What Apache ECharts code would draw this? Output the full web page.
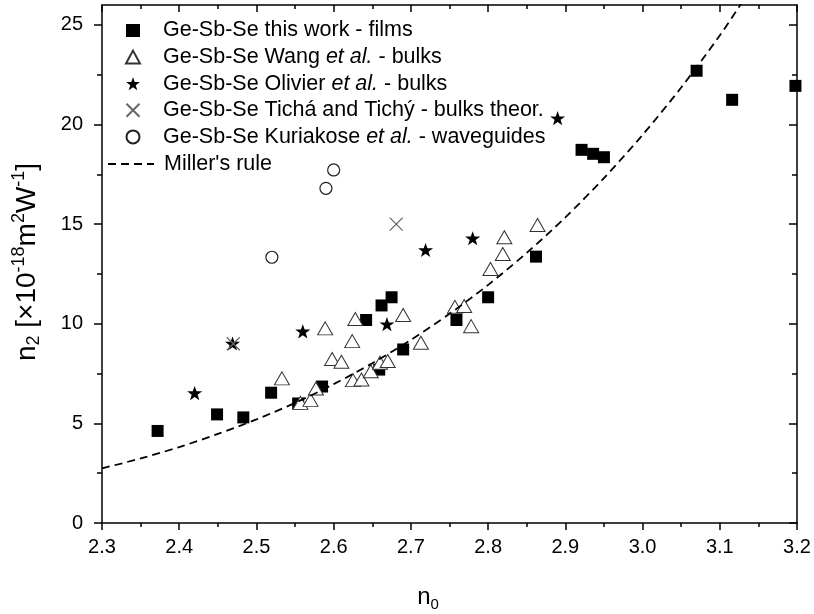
<!DOCTYPE html>
<html>
<head>
<meta charset="utf-8">
<script src="https://cdn.jsdelivr.net/npm/echarts@6/dist/echarts.min.js"></script>
<style>html,body{margin:0;padding:0;background:#fff}#c{width:814px;height:614px}</style>
</head>
<body>
<div id="c"></div>
<script>
// ---- data ----
const filmsN0 = [2.372, 2.449, 2.483, 2.519, 2.554, 2.585, 2.642, 2.662, 2.675, 2.659, 2.690, 2.759, 2.800, 2.862, 2.921, 2.936, 2.950, 3.070, 3.116, 3.198];
const filmsN2 = [4.62, 5.45, 5.30, 6.54, 6.00, 6.85, 10.19, 10.92, 11.33, 7.70, 8.71, 10.19, 11.33, 13.37, 18.73, 18.53, 18.36, 22.70, 21.24, 21.94];

const wangN0 = [2.533, 2.557, 2.570, 2.577, 2.589, 2.598, 2.610, 2.624, 2.628, 2.625, 2.636, 2.648, 2.660, 2.670, 2.690, 2.713, 2.757, 2.769, 2.778, 2.803, 2.819, 2.821, 2.864];
const wangN2 = [7.26, 6.03, 6.18, 6.75, 9.77, 8.23, 8.09, 9.13, 10.24, 7.17, 7.20, 7.62, 8.04, 8.13, 10.44, 9.05, 10.85, 10.89, 9.88, 12.75, 13.50, 14.34, 14.96];

const olivierN0 = [2.420, 2.469, 2.560, 2.669, 2.719, 2.780, 2.890];
const olivierN2 = [6.52, 9.01, 9.62, 9.98, 13.70, 14.29, 20.32];

const tichaN0 = [2.470, 2.681];
const tichaN2 = [9.00, 15.00];

const kuriakoseN0 = [2.520, 2.590, 2.600];
const kuriakoseN2 = [13.34, 16.80, 17.72];

const millerN0 = [2.30, 2.35, 2.40, 2.45, 2.50, 2.55, 2.60, 2.65, 2.70, 2.75, 2.80, 2.85, 2.90, 2.95, 3.00, 3.05, 3.10, 3.13];
const millerN2 = [2.74, 3.24, 3.81, 4.47, 5.20, 6.03, 6.97, 8.02, 9.19, 10.50, 11.95, 13.56, 15.34, 17.31, 19.48, 21.86, 24.47, 26.20];

const xMajor = [2.3, 2.4, 2.5, 2.6, 2.7, 2.8, 2.9, 3.0, 3.1, 3.2];
const xMinor = [2.35, 2.45, 2.55, 2.65, 2.75, 2.85, 2.95, 3.05, 3.15];
const yMajor = [0, 5, 10, 15, 20, 25];
const yMinor = [2.5, 7.5, 12.5, 17.5, 22.5];

const seriesNames = [
  'Ge-Sb-Se this work - films',
  'Ge-Sb-Se Wang et al. - bulks',
  'Ge-Sb-Se Olivier et al. - bulks',
  'Ge-Sb-Se Tichá and Tichý - bulks theor.',
  'Ge-Sb-Se Kuriakose et al. - waveguides',
  "Miller's rule"
];

// ---- chart ----
const zip = (a, b) => a.map((v, i) => [v, b[i]]);
const FONT = "'Liberation Sans', Arial, sans-serif";
const X_MIN = 2.3, X_MAX = 3.2, Y_MIN = 0, Y_MAX = 26;
const STAR = 'path://M12,0.8 L14.9,9 L23.6,9 L16.6,14.3 L19.2,22.6 L12,17.6 L4.8,22.6 L7.4,14.3 L0.4,9 L9.1,9 Z';
const CROSS = 'path://M0,0 L10,10 M10,0 L0,10';

function xAxisDef(pos, vals, len, showLabel, inside, showLine) {
  return {
    type: 'value', position: pos, min: X_MIN, max: X_MAX,
    axisLine: { show: showLine, onZero: false, lineStyle: { color: '#000', width: 1.5 } },
    axisTick: { show: true, inside: inside, length: len, customValues: vals, lineStyle: { color: '#000', width: 1.5 } },
    axisLabel: { show: showLabel, customValues: vals, margin: 14, color: '#000', fontSize: 20, fontFamily: FONT, formatter: v => v.toFixed(1) },
    splitLine: { show: false }
  };
}
function yAxisDef(pos, vals, len, showLabel, inside, showLine) {
  return {
    type: 'value', position: pos, min: Y_MIN, max: Y_MAX,
    axisLine: { show: showLine, onZero: false, lineStyle: { color: '#000', width: 1.5 } },
    axisTick: { show: true, inside: inside, length: len, customValues: vals, lineStyle: { color: '#000', width: 1.5 } },
    axisLabel: { show: showLabel, customValues: vals, margin: 19, color: '#000', fontSize: 20, fontFamily: FONT },
    splitLine: { show: false }
  };
}

const legendText = {
  color: '#000', fontSize: 21.5, fontFamily: FONT, lineHeight: 22,
  rich: { i: { fontStyle: 'italic', fontSize: 21.5, fontFamily: FONT, color: '#000', lineHeight: 22 } }
};

const chart = echarts.init(document.getElementById('c'), null, { renderer: 'canvas' });
chart.setOption({
  animation: false,
  backgroundColor: '#fff',
  grid: { left: 102, right: 17, top: 5, bottom: 91, containLabel: false },
  xAxis: [
    xAxisDef('bottom', xMajor, 7, true, false, true),
    xAxisDef('bottom', xMinor, 4, false, false, false),
    xAxisDef('top', xMajor, 7, false, true, true),
    xAxisDef('top', xMinor, 4, false, true, false)
  ],
  yAxis: [
    yAxisDef('left', yMajor, 8, true, false, true),
    yAxisDef('left', yMinor, 5, false, false, false),
    yAxisDef('right', yMajor, 8, false, true, true),
    yAxisDef('right', yMinor, 5, false, true, false)
  ],
  legend: [
    {
      orient: 'vertical', left: 120, top: 14.5,
      itemWidth: 14, itemHeight: 13, itemGap: 4.6,
      data: seriesNames.slice(0, 5),
      textStyle: Object.assign({ padding: [0, 0, 0, 18] }, legendText),
      formatter: name => name.replace('et al.', '{i|et al.}')
    },
    {
      orient: 'vertical', left: 102, top: 148,
      itemWidth: 46, itemHeight: 12,
      data: seriesNames.slice(5),
      itemStyle: { color: 'rgba(0,0,0,0)', borderWidth: 0 },
      textStyle: Object.assign({ padding: [0, 0, 0, 5] }, legendText)
    }
  ],
  graphic: [
    {
      type: 'text', x: 27, y: 262, rotation: Math.PI / 2,
      style: {
        text: '{n|n}{sub|2}{n| [×10}{sup|-18}{n|m}{sup|2}{n|W}{sup|-1}{n|]}',
        align: 'center', verticalAlign: 'middle',
        rich: {
          n: { fontSize: 28, fontFamily: FONT, fill: '#000', lineHeight: 33, verticalAlign: 'middle' },
          sup: { fontSize: 18, fontFamily: FONT, fill: '#000', lineHeight: 33, verticalAlign: 'top' },
          sub: { fontSize: 18, fontFamily: FONT, fill: '#000', lineHeight: 33, verticalAlign: 'bottom' }
        }
      }
    },
    {
      type: 'text', x: 428, y: 597,
      style: {
        text: '{n|n}{sub|0}',
        align: 'center', verticalAlign: 'middle',
        rich: {
          n: { fontSize: 24, fontFamily: FONT, fill: '#000', lineHeight: 30, verticalAlign: 'middle' },
          sub: { fontSize: 15, fontFamily: FONT, fill: '#000', lineHeight: 30, verticalAlign: 'bottom' }
        }
      }
    }
  ],
  series: [
    {
      name: seriesNames[0], type: 'scatter', data: zip(filmsN0, filmsN2),
      symbol: 'rect', symbolSize: 12, symbolKeepAspect: true,
      itemStyle: { color: '#000', opacity: 1 }, z: 2
    },
    {
      name: seriesNames[1], type: 'scatter', data: zip(wangN0, wangN2),
      symbol: 'triangle', symbolSize: [15, 13], symbolKeepAspect: true,
      itemStyle: { color: '#fff', borderColor: '#333', borderWidth: 1, opacity: 1 }, z: 3
    },
    {
      name: seriesNames[2], type: 'scatter', data: zip(olivierN0, olivierN2),
      symbol: STAR, symbolSize: 15, symbolKeepAspect: true,
      itemStyle: { color: '#000', opacity: 1 }, z: 4
    },
    {
      name: seriesNames[3], type: 'scatter', data: zip(tichaN0, tichaN2),
      symbol: CROSS, symbolSize: 13, symbolKeepAspect: true,
      itemStyle: { color: 'rgba(0,0,0,0)', borderColor: '#666', borderWidth: 1.3, opacity: 1 }, z: 4
    },
    {
      name: seriesNames[4], type: 'scatter', data: zip(kuriakoseN0, kuriakoseN2),
      symbol: 'circle', symbolSize: 12, symbolKeepAspect: true,
      itemStyle: { color: '#fff', borderColor: '#222', borderWidth: 1.2, opacity: 1 }, z: 4
    },
    {
      name: seriesNames[5], type: 'line', data: zip(millerN0, millerN2),
      smooth: 0.3, symbol: 'none', clip: true,
      lineStyle: { color: '#000', width: 1.8, type: [8, 5] },
      itemStyle: { color: '#000' }, z: 5
    }
  ]
});
</script>
</body>
</html>
